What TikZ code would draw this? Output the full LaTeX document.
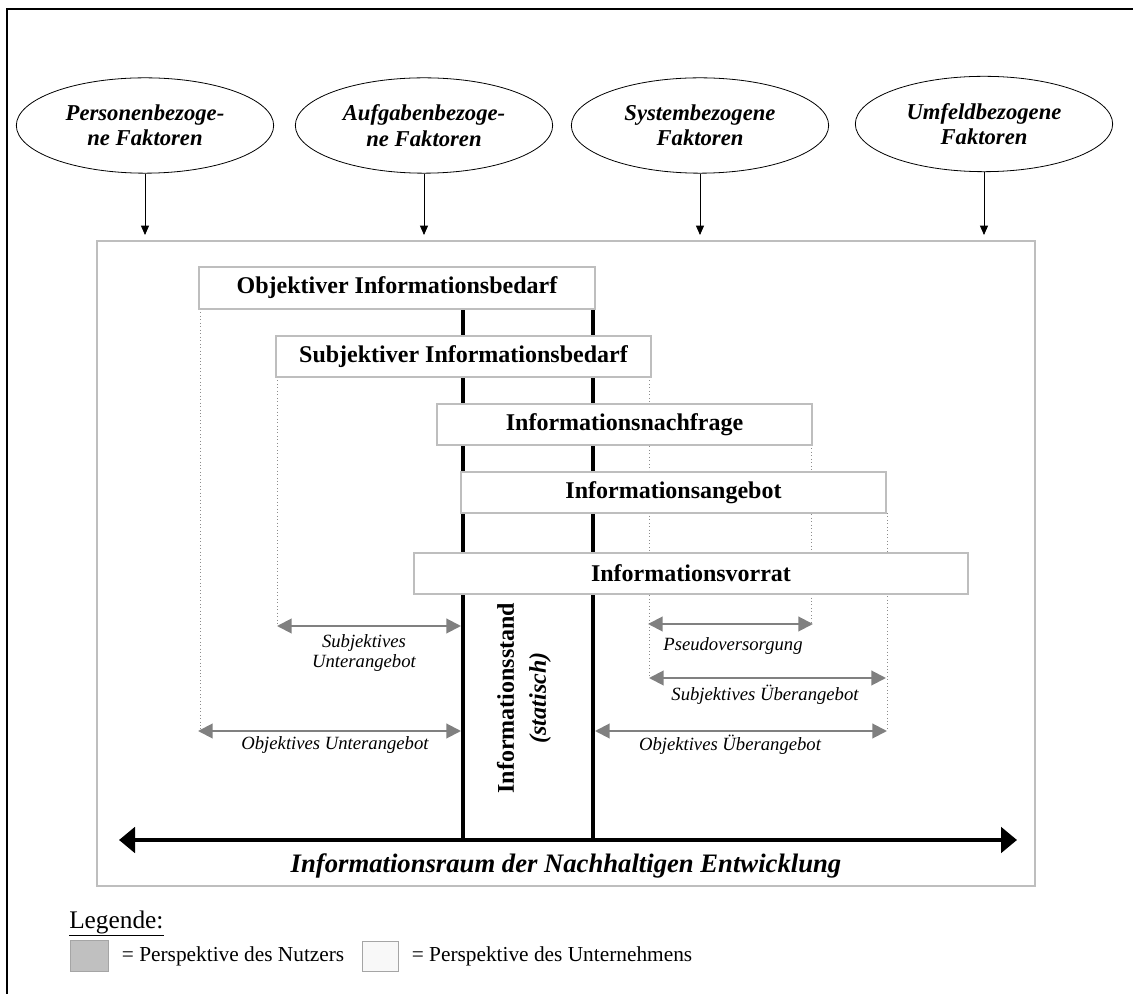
\documentclass[tikz,border=0pt]{standalone}
\usepackage{fontspec}
\setmainfont{Liberation Serif}
\usetikzlibrary{shapes.geometric,arrows.meta}
\pgfdeclarelayer{bg}
\pgfsetlayers{bg,main}
\definecolor{boxgray}{RGB}{190,190,190}
\definecolor{arrgray}{RGB}{128,128,128}
\definecolor{dotgray}{RGB}{140,140,140}
\definecolor{leggray}{RGB}{192,192,192}
\definecolor{legborder}{RGB}{165,165,165}
\definecolor{legwhite}{RGB}{248,248,248}
\begin{document}
\begin{tikzpicture}[x=0.75pt,y=-0.75pt,
  faktor/.style={ellipse, draw, line width=0.6pt, minimum width=193pt, minimum height=71.5pt,
    inner sep=0pt, align=center, font=\fontsize{17}{19}\selectfont\bfseries\itshape},
  infobox/.style={rectangle, draw=boxgray, line width=1.5pt, fill=white, inner sep=0pt,
    font=\fontsize{18}{20}\selectfont\bfseries},
  factarrow/.style={draw=black, line width=0.6pt, -{Triangle[length=7pt,width=6pt]}},
  thickline/.style={line width=2.6pt, black},
  dotline/.style={draw=dotgray, line width=0.6pt, dotted},
  garrow/.style={draw=arrgray, line width=1.5pt, {Triangle[length=11pt,width=11pt]}-{Triangle[length=11pt,width=11pt]}},
  glabel/.style={inner sep=0pt, align=center, font=\fontsize{14}{15.5}\selectfont\itshape},
  axisarrow/.style={line width=3pt, black, {Triangle[length=12pt,width=19pt]}-{Triangle[length=12pt,width=19pt]}},
  legbox/.style={draw=legborder, line width=0.75pt, inner sep=0pt},
  legtext/.style={inner sep=0pt, font=\fontsize{16}{18}\selectfont}
]
\useasboundingbox (0,0) rectangle (1133,994);

% outer frame
\draw[line width=1.5pt] (7,994) -- (7,9) -- (1133,9);

% factor ellipses
\node[faktor] (f1) at (145,125.5) {Personenbezoge-\\ne Faktoren};
\node[faktor] (f2) at (424,125.5) {Aufgabenbezoge-\\ne Faktoren};
\node[faktor] (f3) at (700,125.5) {Systembezogene\\Faktoren};
\node[faktor] (f4) at (984,124) {Umfeldbezogene\\Faktoren};

\coordinate (t1) at (145,235);
\coordinate (t2) at (424,235);
\coordinate (t3) at (700,235);
\coordinate (t4) at (984,235);
\draw[factarrow] (f1) -- (t1);
\draw[factarrow] (f2) -- (t2);
\draw[factarrow] (f3) -- (t3);
\draw[factarrow] (f4) -- (t4);

% information space frame
\node[draw=boxgray, line width=1.5pt, minimum width=938*0.75pt, minimum height=645*0.75pt, inner sep=0pt] (raum) at (566,563.5) {};

% boxes
\node[infobox, minimum width=396*0.75pt, minimum height=42*0.75pt] (obj) at (397,288) {Objektiver Informationsbedarf};
\node[infobox, minimum width=375*0.75pt, minimum height=41*0.75pt] (subj) at (463.5,356.5) {Subjektiver Informationsbedarf};
\node[infobox, minimum width=375*0.75pt, minimum height=41*0.75pt] (nach) at (624.5,424.5) {Informationsnachfrage};
\node[infobox, minimum width=425*0.75pt, minimum height=41*0.75pt] (ang) at (673.5,492.5) {Informationsangebot};
\node[infobox, minimum width=554*0.75pt, minimum height=41*0.75pt] (vor) at (691,573.5) {Informationsvorrat};

% coordinates for lines
\coordinate (lt) at (463,309);
\coordinate (lb) at (463,839);
\coordinate (rt) at (593,309);
\coordinate (rb) at (593,839);
\coordinate (d1t) at (200,309);  \coordinate (d1b) at (200,731);
\coordinate (d2t) at (277,377);  \coordinate (d2b) at (277,626);
\coordinate (d3t) at (649,377);  \coordinate (d3b) at (649,678);
\coordinate (d4t) at (811,445);  \coordinate (d4b) at (811,624);
\coordinate (d5t) at (887,513);  \coordinate (d5b) at (887,731);

\begin{pgfonlayer}{bg}
  \draw[thickline] (lt) -- (lb);
  \draw[thickline] (rt) -- (rb);
  \draw[dotline] (d1t) -- (d1b);
  \draw[dotline] (d2t) -- (d2b);
  \draw[dotline] (d3t) -- (d3b);
  \draw[dotline] (d4t) -- (d4b);
  \draw[dotline] (d5t) -- (d5b);
\end{pgfonlayer}

% gray arrows
\coordinate (su1) at (277,626); \coordinate (su2) at (461,626);
\coordinate (ou1) at (198,731); \coordinate (ou2) at (461,731);
\coordinate (ps1) at (648,624); \coordinate (ps2) at (813,624);
\coordinate (sue1) at (649,678); \coordinate (sue2) at (886,678);
\coordinate (oue1) at (595,731); \coordinate (oue2) at (887,731);
\draw[garrow] (su1) -- (su2);
\draw[garrow] (ou1) -- (ou2);
\draw[garrow] (ps1) -- (ps2);
\draw[garrow] (sue1) -- (sue2);
\draw[garrow] (oue1) -- (oue2);

\node[glabel] (lsu) at (364,653) {Subjektives\\Unterangebot};
\node[glabel] (lou) at (335,745) {Objektives Unterangebot};
\node[glabel] (lps) at (733,646) {Pseudoversorgung};
\node[glabel] (lsue) at (765,695) {Subjektives Überangebot};
\node[glabel] (loue) at (730,745) {Objektives Überangebot};

% static information state
\node[rotate=90, align=center, inner sep=0pt, font=\fontsize{18}{24}\selectfont\bfseries] (stand) at (524,698) {Informationsstand\\\textit{(statisch)}};

% axis
\coordinate (al) at (119,840);
\coordinate (ar) at (1017,840);
\draw[axisarrow] (al) -- (ar);
\node[inner sep=0pt, font=\fontsize{20}{22}\selectfont\bfseries\itshape] (raumlabel) at (566,866) {Informationsraum der Nachhaltigen Entwicklung};

% legend
\node[anchor=base west, inner sep=0pt, font=\fontsize{19}{21}\selectfont] (leg) at (69,928) {\underline{Legende:}};
\node[legbox, fill=leggray, minimum width=28.5pt, minimum height=23.25pt, anchor=north west] (lg1) at (70,940) {};
\node[legtext, anchor=west] (lt1) at ([xshift=9.5pt]lg1.east) {= Perspektive des Nutzers};
\node[legbox, fill=legwhite, minimum width=27pt, minimum height=22.5pt, anchor=west] (lg2) at ([xshift=13pt]lt1.east) {};
\node[legtext, anchor=west] (lt2) at ([xshift=9.5pt]lg2.east) {= Perspektive des Unternehmens};
\end{tikzpicture}
\end{document}
